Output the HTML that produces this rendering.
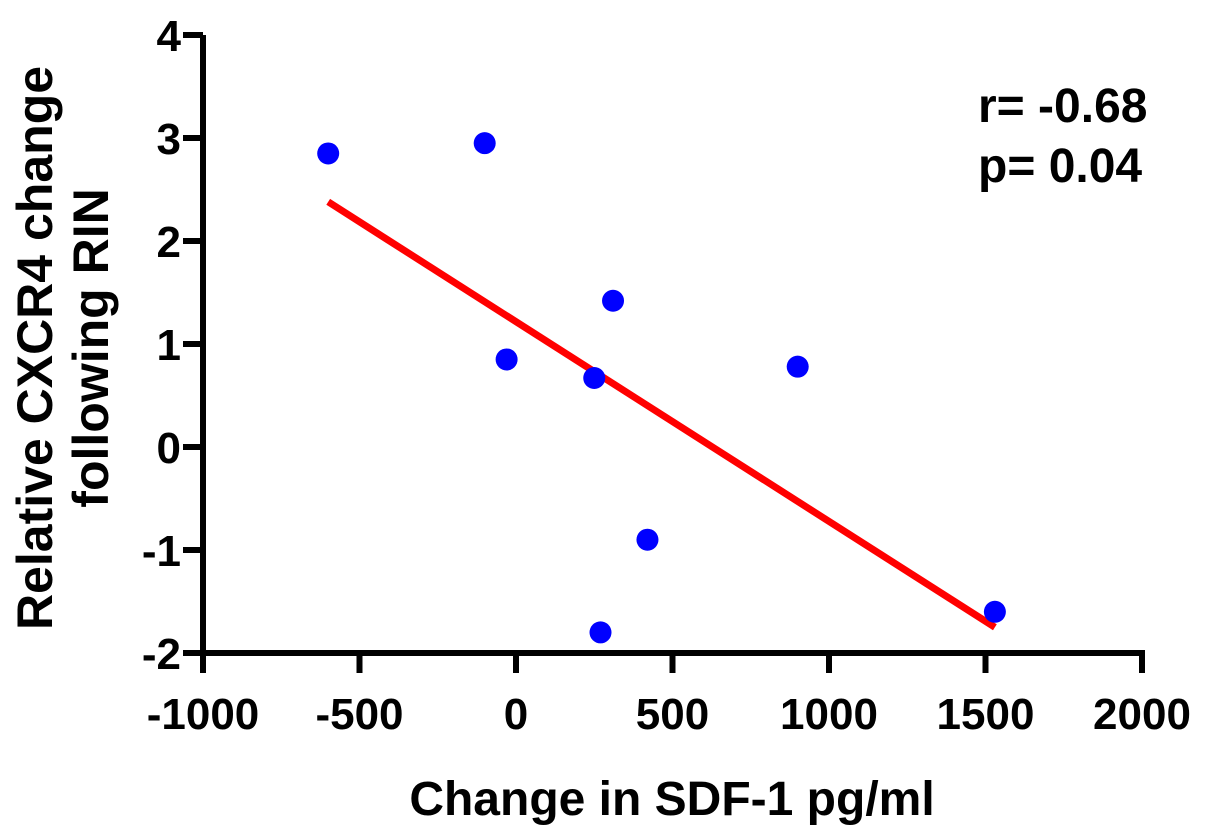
<!DOCTYPE html>
<html><head><meta charset="utf-8"><style>
body{margin:0;background:#fff;}
svg{display:block;font-family:"Liberation Sans",Arial,sans-serif;font-weight:bold;}
</style></head><body>
<svg id="chart" width="1205" height="835" viewBox="0 0 1205 835" xmlns="http://www.w3.org/2000/svg">
<g id="axes"></g>
<g id="marks"></g>
<text x="672" y="815" font-size="48" text-anchor="middle">Change in SDF-1 pg/ml</text>
<g transform="translate(0,348) rotate(-90)" font-size="50" text-anchor="middle">
<text x="0" y="52">Relative CXCR4 change</text>
<text x="0" y="108">following RIN</text>
</g>
<text x="978" y="122" font-size="48">r= -0.68</text>
<text x="978" y="182" font-size="48">p= 0.04</text>
</svg>
<script>
const xVals=[-600,-100,-30,250,310,270,420,900,1530];
const yVals=[2.85,2.95,0.85,0.67,1.42,-1.8,-0.9,0.78,-1.6];
const xTicks=[-1000,-500,0,500,1000,1500,2000];
const yTicks=[-2,-1,0,1,2,3,4];
const fitX=[-600,1530];
const fitY=[2.38,-1.75];
const X0=203,X1=1142,Y0=653,Y1=35;
const sx=v=>X0+(v+1000)/3000*(X1-X0);
const sy=v=>Y0-(v+2)/6*(Y0-Y1);
const NS='http://www.w3.org/2000/svg';
function mk(t,a,p){const e=document.createElementNS(NS,t);for(const k in a)e.setAttribute(k,a[k]);p.appendChild(e);return e;}
const ax=document.getElementById('axes'),mg=document.getElementById('marks');
let l=mk('line',{x1:X0,y1:Y1,x2:X0,y2:Y0+2,stroke:'#000','stroke-width':6},ax);


l=mk('line',{x1:X0-3,y1:Y0,x2:X1+3,y2:Y0,stroke:'#000','stroke-width':6},ax);


xTicks.forEach(v=>{const x=sx(v);
 const t=mk('line',{x1:x,y1:Y0,x2:x,y2:Y0+20,stroke:'#000','stroke-width':6},ax);
 
 
 const s=mk('text',{x:x,y:Y0+76,'font-size':44,'text-anchor':'middle'},ax);s.textContent=v;
 
 });
yTicks.forEach(v=>{const y=sy(v);
 const t=mk('line',{x1:X0-20,y1:y,x2:X0,y2:y,stroke:'#000','stroke-width':6},ax);
 
 
 const s=mk('text',{x:X0-22,y:y+16,'font-size':44,'text-anchor':'end'},ax);s.textContent=v;
 
 });
const fl=mk('line',{x1:sx(fitX[0]),y1:sy(fitY[0]),x2:sx(fitX[1]),y2:sy(fitY[1]),stroke:'#f00','stroke-width':7},mg);


xVals.forEach((v,i)=>{const c=mk('circle',{cx:sx(v),cy:sy(yVals[i]),r:11,fill:'#0000ff'},mg);
 
 });
</script>
</body></html>
